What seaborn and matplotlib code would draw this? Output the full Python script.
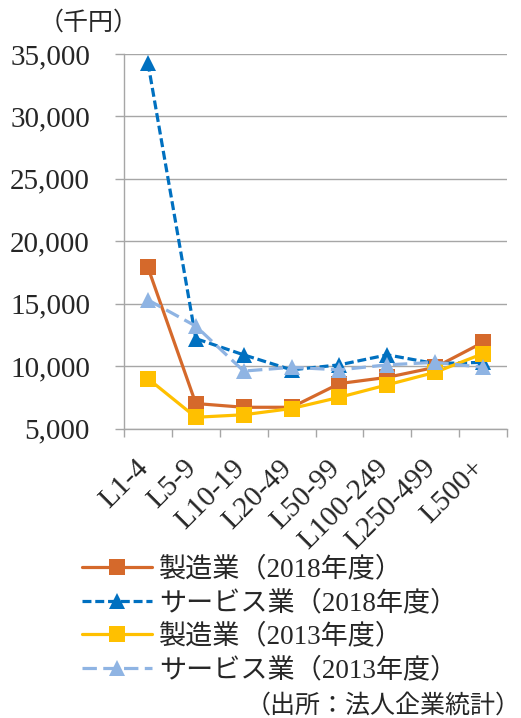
import matplotlib
matplotlib.use("Agg")
import matplotlib.pyplot as plt
import matplotlib.transforms as mtransforms
from matplotlib.ticker import FuncFormatter, FixedLocator
import seaborn as sns
import pandas as pd

categories = ["L1-4", "L5-9", "L10-19", "L20-49", "L50-99", "L100-249", "L250-499", "L500+"]
mfg_2018 = [17900, 7000, 6700, 6700, 8600, 9100, 9900, 11900]
svc_2018 = [34300, 12200, 10900, 9700, 10100, 10900, 10200, 10300]
mfg_2013 = [9000, 5900, 6100, 6600, 7500, 8500, 9500, 11000]
svc_2013 = [15300, 13200, 9600, 9900, 9700, 10100, 10300, 9900]
series_names = ["製造業（2018年度）", "サービス業（2018年度）", "製造業（2013年度）", "サービス業（2013年度）"]
y_ticks = [5000, 10000, 15000, 20000, 25000, 30000, 35000]

FAM = ["Liberation Serif", "Noto Sans CJK JP"]
sns.set_theme(style="white")
plt.rcParams["font.family"] = FAM

fig = plt.figure(figsize=(5.21, 7.18), dpi=100)
W, H = 521, 718
ax = fig.add_axes([124 / W, 1 - 428.5 / H, (507 - 124) / W, (428.5 - 54) / H])

styles = [
    dict(color="#D5692B", marker="s", dashes=(1, 0), lw=2.3),
    dict(color="#0070C0", marker="^", dashes=(2.8, 1.2), lw=2.3),
    dict(color="#FFC000", marker="s", dashes=(1, 0), lw=2.3),
    dict(color="#8FB4E3", marker="^", dashes=(4.5, 2.0), lw=2.3),
]
values = [mfg_2018, svc_2018, mfg_2013, svc_2013]

for name, vals, st in zip(series_names, values, styles):
    df = pd.DataFrame({"x": range(len(categories)), "y": vals})
    sns.lineplot(data=df, x="x", y="y", ax=ax, color=st["color"], marker=st["marker"],
                 markersize=11, markeredgewidth=0, linewidth=st["lw"], label=name)
    l = ax.lines[-1]
    if st["dashes"] != (1, 0):
        l.set_dashes(st["dashes"])

ax.set_xlim(-0.5, len(categories) - 0.5)
ax.set_ylim(5000, 35000)
ax.set_yticks(y_ticks)
ax.yaxis.set_major_formatter(FuncFormatter(lambda v, p: f"{int(v):,}"))
ax.set_xticks(range(len(categories)))
ax.set_xticklabels(categories)
ax.xaxis.set_minor_locator(FixedLocator([i - 0.5 for i in range(len(categories) + 1)]))
ax.set_xlabel("")
ax.set_ylabel("")

grid_c = "#A6A6A6"
ax.yaxis.grid(True, color=grid_c, linewidth=1.0)
ax.xaxis.grid(False)
for s in ["top", "right"]:
    ax.spines[s].set_visible(False)
for s in ["left", "bottom"]:
    ax.spines[s].set_color(grid_c)
    ax.spines[s].set_linewidth(1.0)

ax.tick_params(axis="y", which="major", length=6.5, width=1.0, color=grid_c, direction="out",
               pad=18, labelsize=21, left=True)
ax.tick_params(axis="x", which="major", length=0, pad=19, labelsize=21, bottom=True)
ax.tick_params(axis="x", which="minor", length=6, width=1.0, color=grid_c, direction="out", bottom=True)

offset = mtransforms.ScaledTranslation(6 / 100, 0, fig.dpi_scale_trans)
for lab in ax.get_xticklabels():
    lab.set_rotation(45)
    lab.set_ha("right")
    lab.set_va("top")
    lab.set_transform(lab.get_transform() + offset)

handles, labels = ax.get_legend_handles_labels()
if ax.legend_:
    ax.legend_.remove()
fig.legend(handles, labels, loc="upper left", bbox_to_anchor=(82 / W, 1 - 557 / H),
           frameon=False, handlelength=2.6, handletextpad=0.26,
           labelspacing=0.28, borderpad=0, borderaxespad=0,
           prop={"family": FAM, "size": 19.5})

fig.text(89 / W, 1 - 23 / H, "（千円）", ha="center", va="center", fontsize=18, family=FAM)
fig.text(521 / W, 1 - 706 / H, "（出所：法人企業統計）", ha="right", va="center", fontsize=18,
         family=FAM)

fig.savefig("out.png", dpi=100)
